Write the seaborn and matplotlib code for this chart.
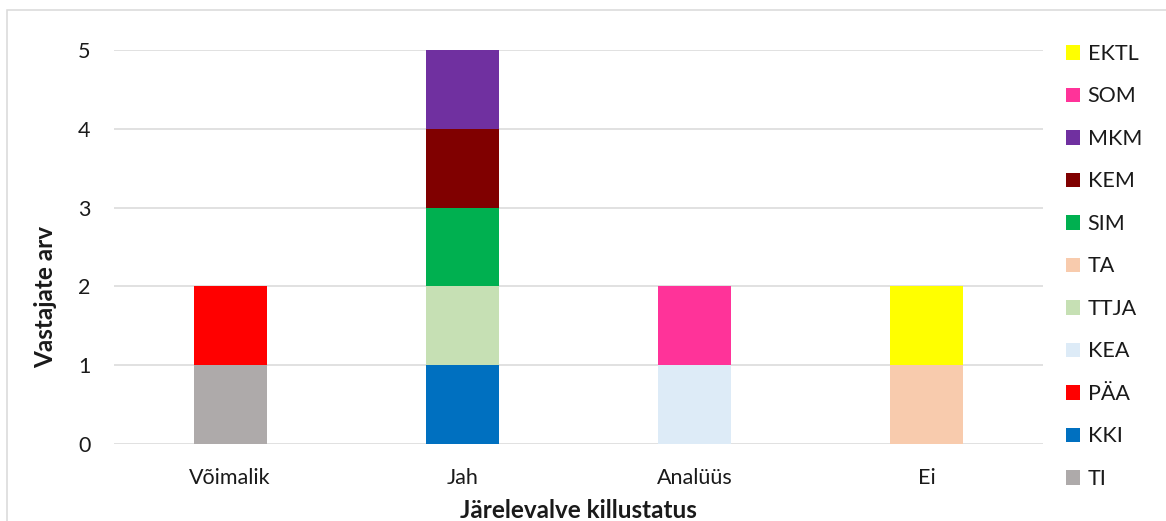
import numpy as np
import pandas as pd
import seaborn as sns
import matplotlib
matplotlib.use("Agg")
import matplotlib.pyplot as plt
from matplotlib.patches import Patch, Rectangle

categories = ["Võimalik", "Jah", "Analüüs", "Ei"]
series = ["TI", "KKI", "PÄA", "KEA", "TTJA", "TA", "SIM", "KEM", "MKM", "SOM", "EKTL"]
values = {
    "TI":   [1, 0, 0, 0],
    "KKI":  [0, 1, 0, 0],
    "PÄA":  [1, 0, 0, 0],
    "KEA":  [0, 0, 1, 0],
    "TTJA": [0, 1, 0, 0],
    "TA":   [0, 0, 0, 1],
    "SIM":  [0, 1, 0, 0],
    "KEM":  [0, 1, 0, 0],
    "MKM":  [0, 1, 0, 0],
    "SOM":  [0, 0, 1, 0],
    "EKTL": [0, 0, 0, 1],
}
colors = {
    "TI": "#AEAAAA", "KKI": "#0070C0", "PÄA": "#FF0000", "KEA": "#DDEBF7",
    "TTJA": "#C6E0B4", "TA": "#F8CBAD", "SIM": "#00B050", "KEM": "#800000",
    "MKM": "#7030A0", "SOM": "#FF3399", "EKTL": "#FFFF00",
}
xlabel = "Järelevalve killustatus"
ylabel = "Vastajate arv"

rows = []
for s in series:
    for c, v in zip(categories, values[s]):
        rows.append({"cat": c, "series": s, "n": v})
df = pd.DataFrame(rows)
df["cat"] = pd.Categorical(df["cat"], categories=categories, ordered=True)
df["x"] = df["cat"].cat.codes

sns.set_theme(style="white")
plt.rcParams["font.family"] = ["Lato", "DejaVu Sans"]

W, H = 1166, 521
fig = plt.figure(figsize=(W / 100, H / 100), dpi=100)
ax = fig.add_axes([114 / W, 1 - 444 / H, (1043 - 114) / W, (444 - 50) / H])

hue_order = series[::-1]
sns.histplot(data=df, x="x", weights="n", hue="series", hue_order=hue_order,
             multiple="stack", discrete=True, shrink=0.315, palette=colors,
             linewidth=0, alpha=1, ax=ax, legend=False, zorder=3)

ax.set_xlim(-0.5, 3.5)
ax.set_ylim(0, 5)
ax.set_yticks(range(6))
ax.set_xticks(range(4))
ax.set_xticklabels(categories)
ax.grid(axis="y", color="#D9D9D9", linewidth=1.1, zorder=0)
ax.grid(axis="x", visible=False)
ax.set_axisbelow(True)
for sp in ax.spines.values():
    sp.set_visible(False)
ax.tick_params(axis="both", length=0, labelsize=15.5, colors="#1a1a1a")
ax.tick_params(axis="y", pad=17)
ax.tick_params(axis="x", pad=17)
ax.set_xlabel(xlabel, fontsize=17.5, fontweight="bold", color="#1a1a1a", labelpad=8)
ax.set_ylabel(ylabel, fontsize=17.5, fontweight="bold", color="#1a1a1a")
ax.yaxis.set_label_coords((57 - 114) / 929, (444 - 297) / 394)

handles = [Patch(facecolor=colors[s], edgecolor="none") for s in hue_order]
leg = fig.legend(handles, hue_order, loc="upper left",
                 bbox_to_anchor=(1066 / W, 1 - 44 / H), frameon=False,
                 fontsize=15.5, handlelength=0.65, handleheight=0.65,
                 handletextpad=0.35, labelspacing=1.045, borderpad=0,
                 borderaxespad=0)
for t in leg.get_texts():
    t.set_color("#1a1a1a")

fig.add_artist(Rectangle((7 / W, -0.1), 2, 1 - 10 / H + 0.1,
                         transform=fig.transFigure, fill=False,
                         edgecolor="#D9D9D9", linewidth=1.1, clip_on=False))

fig.savefig("out.png", dpi=100)
